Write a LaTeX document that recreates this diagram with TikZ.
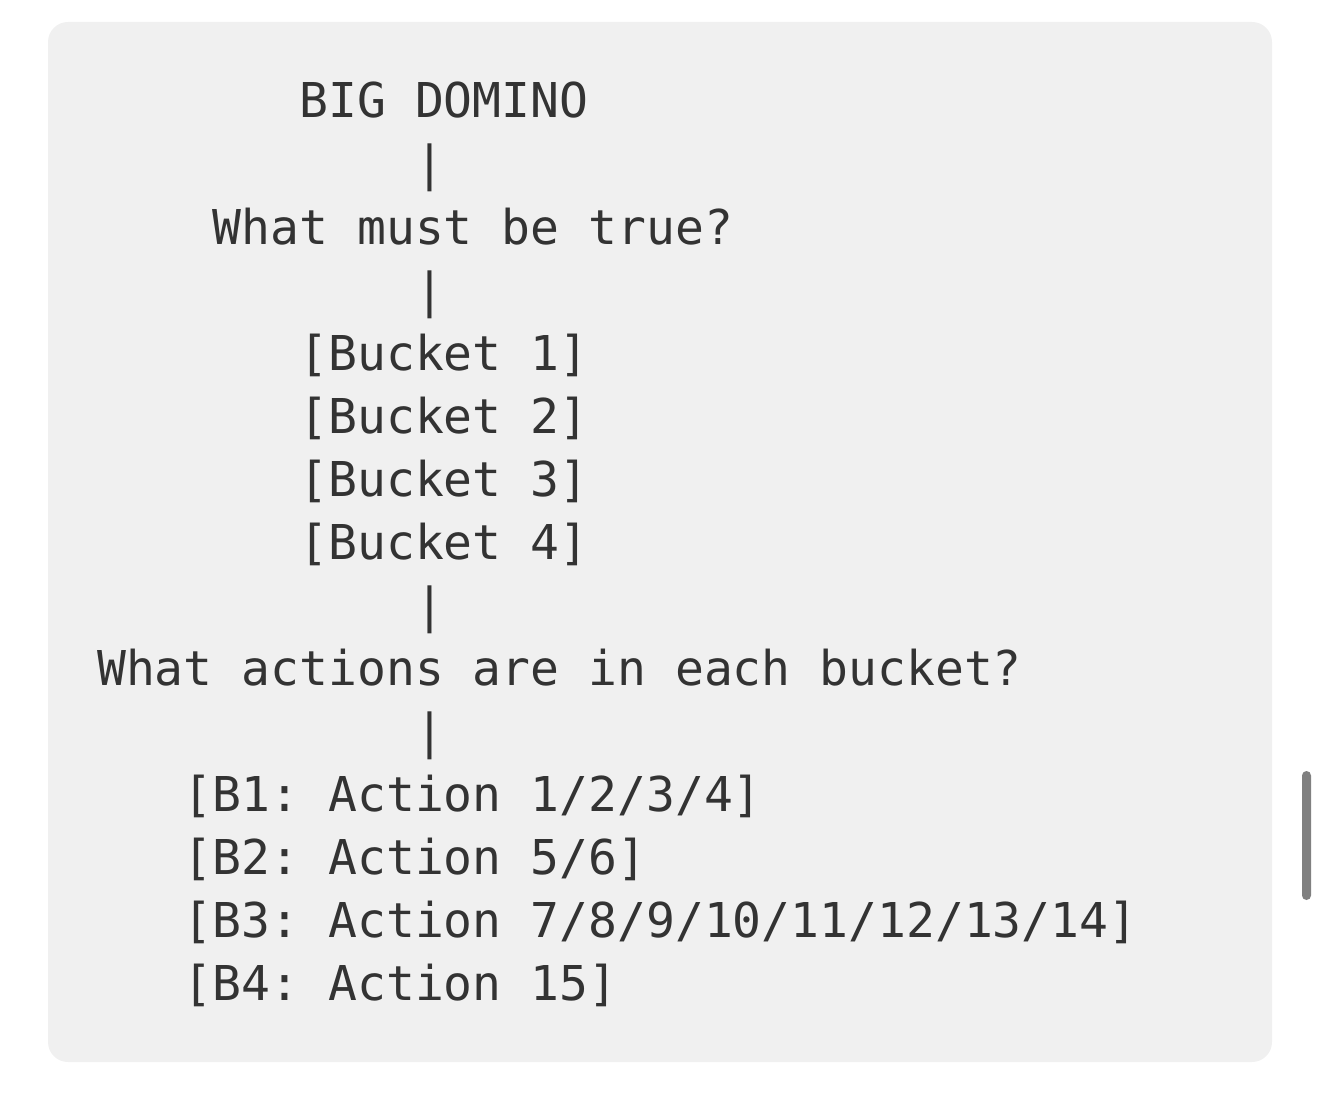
\documentclass[tikz,border=0pt]{standalone}
\usepackage{fontspec}
\setmonofont{DejaVu Sans Mono}
\usepackage{tikz}

\definecolor{codebg}{HTML}{F0F0F0}
\definecolor{codetext}{HTML}{333333}
\definecolor{scrollgray}{HTML}{808080}

\begin{document}
\begin{tikzpicture}[x=1pt,y=-1pt,
        codeline/.style={anchor=base west,inner sep=0pt,text=codetext,
            font=\ttfamily\fontsize{48}{63}\selectfont}]
                    \useasboundingbox (0,0) rectangle (1320,1110);
                    \fill [codebg,rounded corners=20] (48,22) rectangle (1272,1062);
                    \fill [scrollgray,rounded corners=4.5] (1302,771) rectangle (1311,900);
                    \begin{scope}[shift={(97pt,-118pt)},x=28.9pt,y=-63pt]
                        \node [codeline] (domino) at (7,0) {BIG DOMINO};
                        \node [codeline] (bar1) at (11,1) {|};
                        \node [codeline] (mustbe) at (4,2) {What must be true?};
                        \node [codeline] (bar2) at (11,3) {|};
                        \node [codeline] (bucket1) at (7,4) {[Bucket 1]};
                        \node [codeline] (bucket2) at (7,5) {[Bucket 2]};
                        \node [codeline] (bucket3) at (7,6) {[Bucket 3]};
                        \node [codeline] (bucket4) at (7,7) {[Bucket 4]};
                        \node [codeline] (bar3) at (11,8) {|};
                        \node [codeline] (actions) at (0,9) {What actions are in each bucket?};
                        \node [codeline] (bar4) at (11,10) {|};
                        \node [codeline] (b1) at (3,11) {[B1: Action 1/2/3/4]};
                        \node [codeline] (b2) at (3,12) {[B2: Action 5/6]};
                        \node [codeline] (b3) at (3,13) {[B3: Action 7/8/9/10/11/12/13/14]};
                        \node [codeline] (b4) at (3,14) {[B4: Action 15]};
                    \end{scope}
                \end{tikzpicture}
\end{document}
